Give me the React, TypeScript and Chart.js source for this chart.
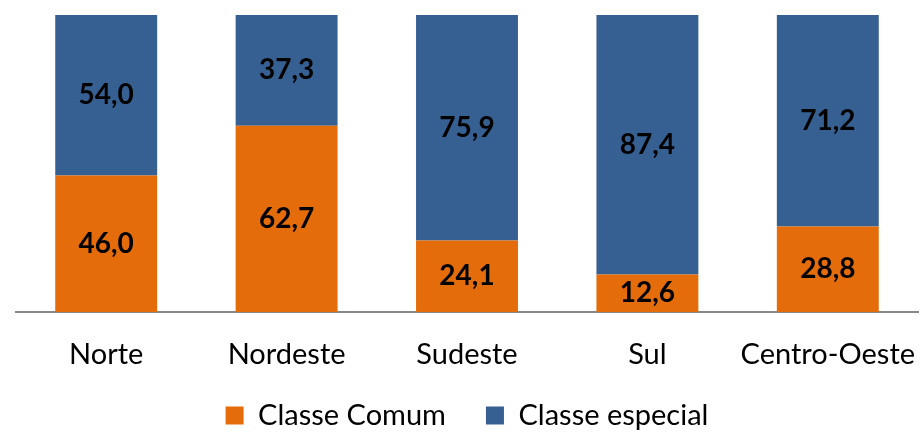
import React, { useEffect, useRef } from "react";
import { Chart, registerables } from "chart.js";

Chart.register(...registerables);

const categories = ["Norte", "Nordeste", "Sudeste", "Sul", "Centro-Oeste"];
const classeComum = [46.0, 62.7, 24.1, 12.6, 28.8];
const classeEspecial = [54.0, 37.3, 75.9, 87.4, 71.2];
const seriesNames = ["Classe Comum", "Classe especial"];
const seriesColors = ["#E46C0A", "#376092"];

const FONT = "Lato, 'Open Sans', sans-serif";

const valueLabels = {
  id: "valueLabels",
  afterDatasetsDraw(chart: any) {
    const ctx = chart.ctx;
    ctx.save();
    ctx.font = `bold 28px ${FONT}`;
    ctx.fillStyle = "#000000";
    ctx.textAlign = "center";
    ctx.textBaseline = "middle";
    chart.data.datasets.forEach((ds: any, i: number) => {
      const meta = chart.getDatasetMeta(i);
      meta.data.forEach((bar: any, j: number) => {
        const y = (bar.y + bar.base) / 2;
        ctx.fillText(ds.data[j].toFixed(1).replace(".", ","), bar.x, y);
      });
    });
    ctx.restore();
  },
};

// let the category labels draw past the (compact) x-scale box
const unclipTicks = {
  id: "unclipTicks",
  beforeDraw(chart: any) {
    const x = chart.scales.x;
    if (x) x.bottom = chart.height;
  },
};

export default function App() {
  const ref = useRef<HTMLCanvasElement>(null);
  useEffect(() => {
    if (!ref.current) return;
    const chart = new Chart(ref.current, {
      type: "bar",
      data: {
        labels: categories,
        datasets: [
          { label: seriesNames[0], data: classeComum, backgroundColor: seriesColors[0], borderWidth: 0 },
          { label: seriesNames[1], data: classeEspecial, backgroundColor: seriesColors[1], borderWidth: 0 },
        ],
      },
      options: {
        animation: false,
        responsive: false,
        layout: { padding: { left: 16, right: 2, top: 15, bottom: -8 } },
        datasets: { bar: { barPercentage: 0.565, categoryPercentage: 1 } },
        scales: {
          x: {
            stacked: true,
            grid: { display: false, drawTicks: false },
            border: { display: true, color: "#888888", width: 2 },
            ticks: {
              color: "#000000",
              font: { family: FONT, size: 29 },
              padding: 25,
              maxRotation: 0,
              minRotation: 0,
              autoSkip: false,
            },
            afterFit(scale: any) {
              scale.height = 49;
              scale.paddingLeft = 0;
              scale.paddingRight = 0;
            },
          },
          y: {
            stacked: true,
            min: 0,
            max: 100,
            display: false,
          },
        },
        plugins: {
          legend: {
            position: "bottom",
            labels: {
              color: "#000000",
              font: { family: FONT, size: 29 },
              boxWidth: 18,
              boxHeight: 18,
              padding: 40,
            },
          },
          tooltip: { enabled: false },
        },
      },
      plugins: [valueLabels, unclipTicks],
    });
    return () => chart.destroy();
  }, []);
  return (
    <div style={{ position: "fixed", left: 0, top: 0, width: 920, height: 432 }}>
      <canvas ref={ref} width={920} height={432} style={{ width: 920, height: 432 }} />
    </div>
  );
}
